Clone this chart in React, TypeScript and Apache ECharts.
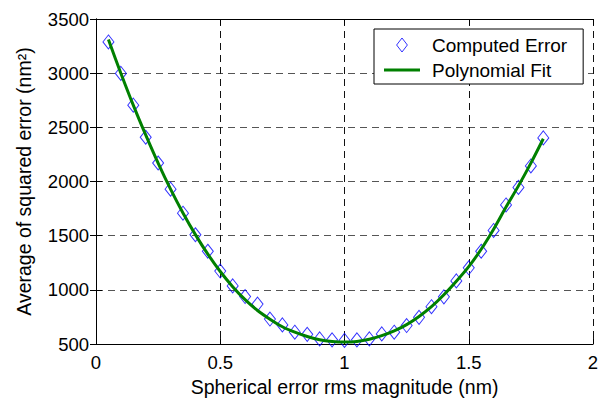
import React, { useEffect, useRef } from "react";
import * as echarts from "echarts";

const xValues = [
  0.05, 0.1, 0.15, 0.2, 0.25, 0.3, 0.35, 0.4, 0.45, 0.5, 0.55, 0.6, 0.65, 0.7, 0.75, 0.8, 0.85, 0.9,
  0.95, 1.0, 1.05, 1.1, 1.15, 1.2, 1.25, 1.3, 1.35, 1.4, 1.45, 1.5, 1.55, 1.6, 1.65, 1.7, 1.75, 1.8,
];
const computedError = [
  3288, 2998, 2705, 2409, 2171, 1930, 1708, 1509, 1357, 1174, 1037, 939, 869, 731, 677, 610, 590, 548,
  539, 534, 539, 548, 594, 610, 671, 747, 845, 936, 1083, 1204, 1357, 1549, 1784, 1946, 2144, 2403,
];
const fitValues = [
  3310, 3000, 2705, 2430, 2170, 1930, 1710, 1510, 1330, 1170, 1030, 910, 810, 730, 660, 610, 570, 540,
  525, 520, 525, 545, 578, 622, 680, 755, 845, 955, 1080, 1215, 1375, 1560, 1765, 1960, 2170, 2395,
];

const xName = "Spherical error rms magnitude (nm)";
const yName = "Average of squared error (nm²)";
const seriesNames = ["Computed Error", "Polynomial Fit"];

const FONT = "'Liberation Sans', Arial, Helvetica, sans-serif";

export default function App() {
  const ref = useRef<HTMLDivElement>(null);
  useEffect(() => {
    if (!ref.current) return;
    const chart = echarts.init(ref.current, undefined, { renderer: "svg" });
    const tickLine = { color: "#000", width: 1 };
    chart.setOption({
      animation: false,
      backgroundColor: "#fff",
      textStyle: { fontFamily: FONT },
      grid: { left: 96, right: 14, top: 19, bottom: 55 },
      legend: {
        orient: "vertical",
        left: 374,
        top: 29,
        padding: [6, 16, 4, 10],
        itemGap: 5,
        itemWidth: 36,
        itemHeight: 14,
        symbolKeepAspect: true,
        borderColor: "#000",
        borderWidth: 1,
        borderRadius: 0,
        backgroundColor: "#fff",
        textStyle: { fontFamily: FONT, fontSize: 19, color: "#000", lineHeight: 20, padding: [0, 0, 0, 7] },
        data: [
          {
            name: seriesNames[0],
            icon: "path://M5,0L10,6.5L5,13L0,6.5Z",
            itemStyle: { color: "transparent", borderColor: "#0000ff", borderWidth: 1 },
          },
          {
            name: seriesNames[1],
            icon: "path://M0,0L36,0L36,3L0,3Z",
            itemStyle: { color: "#008000", borderWidth: 0 },
          },
        ],
      },
      xAxis: [
        {
          type: "value",
          min: 0,
          max: 2,
          interval: 0.5,
          name: xName,
          nameLocation: "middle",
          nameGap: 31,
          nameTextStyle: { fontFamily: FONT, fontSize: 19.5, color: "#000" },
          axisLine: { lineStyle: tickLine },
          axisTick: { inside: true, length: 6, lineStyle: tickLine },
          axisLabel: { fontFamily: FONT, fontSize: 18.5, color: "#000", margin: 9 },
          splitLine: { show: true, lineStyle: { color: "#111", width: 1, type: [7, 5] } },
        },
        {
          type: "value",
          position: "top",
          min: 0,
          max: 2,
          interval: 0.5,
          axisLine: { show: true, lineStyle: tickLine },
          axisTick: { show: true, inside: true, length: 6, lineStyle: tickLine },
          axisLabel: { show: false },
          splitLine: { show: false },
        },
      ],
      yAxis: [
        {
          type: "value",
          min: 500,
          max: 3500,
          interval: 500,
          name: yName,
          nameLocation: "middle",
          nameGap: 62,
          nameTextStyle: { fontFamily: FONT, fontSize: 19.5, color: "#000" },
          axisLine: { show: true, lineStyle: tickLine },
          axisTick: { show: true, inside: true, length: 6, lineStyle: tickLine },
          axisLabel: {
            fontFamily: FONT,
            fontSize: 18.5,
            color: "#000",
            margin: 7,
            formatter: (v: number) => String(v),
          },
          splitLine: { show: true, lineStyle: { color: "#555", width: 1, type: [7, 5] } },
        },
        {
          type: "value",
          position: "right",
          min: 500,
          max: 3500,
          interval: 500,
          axisLine: { show: true, lineStyle: tickLine },
          axisTick: { show: true, inside: true, length: 6, lineStyle: tickLine },
          axisLabel: { show: false },
          splitLine: { show: false },
        },
      ],
      series: [
        {
          name: seriesNames[0],
          type: "scatter",
          symbol: "diamond",
          symbolSize: [11, 14],
          itemStyle: { color: "transparent", borderColor: "#0000ff", borderWidth: 1 },
          data: xValues.map((x, i) => [x, computedError[i]]),
          z: 2,
        },
        {
          name: seriesNames[1],
          type: "line",
          showSymbol: false,
          symbol: "none",
          smooth: 0.3,
          lineStyle: { color: "#008000", width: 3 },
          itemStyle: { color: "#008000" },
          data: xValues.map((x, i) => [x, fitValues[i]]),
          z: 3,
        },
      ],
    });
    return () => chart.dispose();
  }, []);
  return (
    <div
      ref={ref}
      style={{ position: "fixed", left: 0, top: 0, width: 607, height: 402, background: "#fff" }}
    />
  );
}
